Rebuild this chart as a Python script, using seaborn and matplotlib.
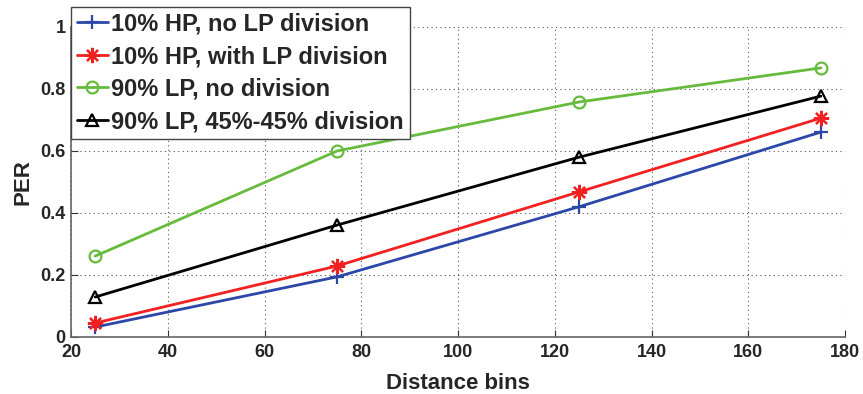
import matplotlib
matplotlib.use("Agg")
import matplotlib.pyplot as plt
import seaborn as sns
import pandas as pd

distance_bins = [25, 75, 125, 175]
hp_no_div = [0.032, 0.194, 0.420, 0.661]
hp_with_div = [0.045, 0.229, 0.468, 0.706]
lp_no_div = [0.261, 0.600, 0.758, 0.868]
lp_45_45 = [0.129, 0.361, 0.580, 0.777]

series_names = [
    "10% HP, no LP division",
    "10% HP, with LP division",
    "90% LP, no division",
    "90% LP, 45%-45% division",
]
series_values = [hp_no_div, hp_with_div, lp_no_div, lp_45_45]
colors = ["#2b47a8", "#f22020", "#66bb3c", "#000000"]
# plus, eight-armed asterisk, circle, triangle
markers = ["+", (8, 2, 0), "o", "^"]
marker_sizes = [10, 11, 8.5, 9]

rows = []
for name, vals in zip(series_names, series_values):
    for x, y in zip(distance_bins, vals):
        rows.append({"Distance bins": x, "PER": y, "series": name})
df = pd.DataFrame(rows)

sns.set_style("white")
plt.rcParams["font.family"] = ["Liberation Sans", "DejaVu Sans"]
plt.rcParams["font.weight"] = "bold"

fig = plt.figure(figsize=(8.63, 3.94), dpi=100)
ax = fig.add_axes([0.0823, 0.1447, 0.8969, 0.7868])

for name, c, m, ms in zip(series_names, colors, markers, marker_sizes):
    sub = df[df["series"] == name]
    sns.lineplot(data=sub, x="Distance bins", y="PER", ax=ax, color=c,
                 marker=m, markersize=ms,
                 markerfacecolor="none", markeredgecolor=c,
                 markeredgewidth=1.6, linewidth=2, label=name)

ax.set_xlim(20, 180)
ax.set_ylim(0, 1)
ax.set_xticks([20, 40, 60, 80, 100, 120, 140, 160, 180])
ax.set_yticks([0, 0.2, 0.4, 0.6, 0.8, 1])
ax.set_yticklabels(["0", "0.2", "0.4", "0.6", "0.8", "1"])
ax.grid(True, linestyle=(0, (1, 3)), color="#555555", linewidth=0.8)
for side in ["top", "right"]:
    ax.spines[side].set_visible(False)
for side in ["left", "bottom"]:
    ax.spines[side].set_color("#666666")
    ax.spines[side].set_linewidth(1.2)
ax.tick_params(axis="both", labelsize=13, direction="in", length=5,
               color="#333333", bottom=True, left=True)
ax.tick_params(axis="x", pad=5)
ax.tick_params(axis="y", pad=4)
for lab in ax.get_xticklabels() + ax.get_yticklabels():
    lab.set_fontweight("bold")
ax.set_xlabel("Distance bins", fontsize=16, fontweight="bold", labelpad=9)
ax.set_ylabel("PER", fontsize=16, fontweight="bold", labelpad=5)

leg = ax.legend(loc="upper left", bbox_to_anchor=(0.0, 1.065),
                prop={"weight": "bold", "size": 17}, frameon=True,
                fancybox=False, handlelength=1.3, handletextpad=0.15,
                borderpad=0.25, labelspacing=0.4, borderaxespad=0)
leg.get_frame().set_edgecolor("#444444")
leg.get_frame().set_linewidth(1.0)
leg.get_frame().set_alpha(1)

fig.savefig("out.png", dpi=100)
